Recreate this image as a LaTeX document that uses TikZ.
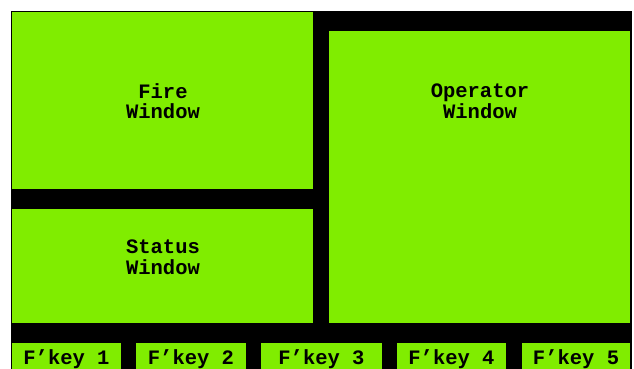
\documentclass[tikz,border=0pt]{standalone}
\usepackage{fontspec}
\setmonofont{Liberation Mono}
\usetikzlibrary{positioning}
\definecolor{mygreen}{RGB}{128,237,0}
\tikzset{wintext/.style={font=\fontsize{20.5}{20.5}\selectfont\ttfamily\bfseries, align=center, inner sep=0pt}}
\begin{document}
\begin{tikzpicture}[x=1pt, y=1pt]
\useasboundingbox (0,0) rectangle (634,369);
% screen background
\fill[black] (11,0) rectangle (632,358);
% the three windows
\fill[mygreen] (12,180) rectangle (313,357);
\fill[mygreen] (12,46) rectangle (313,160);
\fill[mygreen] (329,46) rectangle (630,338);
\node[wintext] (fire) at (163,268) {Fire\\Window};
\node[wintext] (status) at (163,112) {Status\\Window};
\node[wintext] (operator) at (480,268) {Operator\\Window};
% function keys along the bottom
\foreach \n / \a / \b in {1/12/121, 2/136/246, 3/261/382, 4/397/506, 5/522/630}{
\fill[mygreen] (\a,0) rectangle (\b,26);
\node[wintext] (fkey\n) at ({(\a+\b)/2},10) {F’key \n};
}
\end{tikzpicture}
\end{document}
